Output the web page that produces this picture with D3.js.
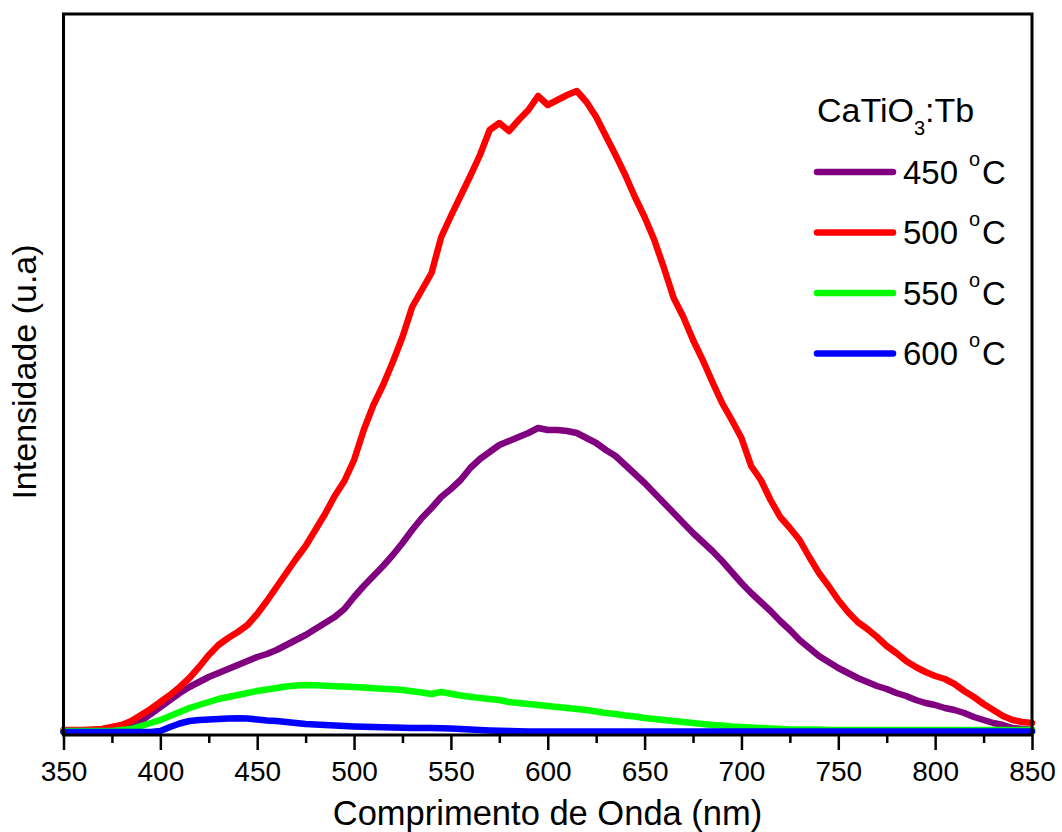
<!DOCTYPE html>
<html>
<head>
<meta charset="UTF-8">
<script src="https://cdn.jsdelivr.net/npm/d3@7/dist/d3.min.js"></script>
<style>
body{
    margin: 0;
    background: #fff;
    font-family: "Liberation Sans", Arial, Helvetica, sans-serif;
}
</style>
</head>
<body>
<script>
// wavelength grid (nm)
var wavelength = [
  350,355,360,365,370,375,380,385,390,395,
  400,405,410,415,420,425,430,435,440,445,
  450,455,460,465,470,475,480,485,490,495,
  500,505,510,515,520,525,530,535,540,545,
  550,555,560,565,570,575,580,585,590,595,
  600,605,610,615,620,625,630,635,640,645,
  650,655,660,665,670,675,680,685,690,695,
  700,705,710,715,720,725,730,735,740,745,
  750,755,760,765,770,775,780,785,790,795,
  800,805,810,815,820,825,830,835,840,845,
  850]

// intensities (arb. units)
var int450 = [
  10,10,10,10,15,20,40,70,110,180,
  250,320,390,450,500,550,590,630,670,710,
  750,780,820,870,920,970,1030,1090,1150,1230,
  1350,1460,1560,1660,1770,1890,2020,2140,2240,2350,
  2430,2520,2640,2730,2800,2870,2910,2950,2990,3040,
  3020,3020,3010,2990,2940,2890,2820,2760,2670,2580,
  2490,2390,2290,2190,2090,1990,1900,1810,1710,1600,
  1490,1390,1300,1210,1110,1020,920,840,760,700,
  640,590,540,500,460,430,390,360,320,290,
  270,240,220,190,150,120,90,70,40,30,
  20]
var int500 = [
  20,20,20,25,30,50,70,110,170,230,
  300,370,450,540,650,770,870,940,1000,1070,
  1180,1310,1450,1590,1730,1860,2020,2180,2360,2510,
  2720,3020,3270,3470,3700,3950,4250,4420,4590,4950,
  5160,5360,5560,5770,6020,6090,6010,6120,6220,6360,
  6270,6320,6370,6410,6300,6150,5960,5770,5570,5350,
  5150,4920,4640,4340,4150,3920,3720,3500,3290,3120,
  2940,2660,2520,2320,2150,2040,1920,1750,1590,1460,
  1320,1200,1100,1030,950,860,790,710,650,600,
  560,530,480,410,350,280,220,160,120,100,
  90]
var int550 = [
  10,10,10,10,10,10,20,30,60,90,
  120,160,200,240,270,300,330,350,370,390,
  410,425,440,455,465,470,468,462,458,455,
  450,445,438,432,428,420,408,395,380,400,
  382,365,352,340,330,320,300,290,280,270,
  260,250,240,230,220,205,190,180,165,155,
  140,130,120,110,100,90,80,70,65,55,
  50,45,40,35,30,25,25,25,25,20,
  20,20,20,20,20,20,20,20,20,20,
  20,20,20,20,20,20,20,20,20,20,
  20]
var int600 = [
  0,0,0,0,0,0,0,0,0,0,
  10,50,85,110,120,125,130,135,137,135,
  125,115,110,100,90,80,75,70,65,60,
  55,52,50,47,45,42,40,40,40,37,
  35,30,25,20,15,12,10,8,6,5,
  5,5,5,5,5,5,5,5,5,5,
  5,5,5,5,5,5,5,5,5,5,
  5,5,5,5,5,5,5,5,5,5,
  5,5,5,5,5,5,5,5,5,5,
  5,5,5,5,5,5,5,5,5,5,
  5]

var seriesNames = ["450", "500", "550", "600"]
var seriesValues = [int450, int500, int550, int600]
var seriesColors = ["#800080", "#ff0000", "#00ff00", "#0000ff"]
var xTicks = [350,400,450,500,550,600,650,700,750,800,850]
var xMinorTicks = [375,425,475,525,575,625,675,725,775,825]

var width = 1062
var height = 832
var plotLeft = 63.5, plotRight = 1032, plotTop = 14, plotBottom = 735

var svg = d3.select('body')
    .append('svg')
    .attr('width', width)
    .attr('height', height)

var x = d3.scaleLinear().domain([350, 850]).range([plotLeft, plotRight])
var y = d3.scaleLinear().domain([-30, 7180]).range([plotBottom, plotTop])

var line = d3.line()
    .x(function(d, i){ return x(wavelength[i]) })
    .y(function(d){ return y(d) })

for (let s = 0; s < seriesValues.length; s++){
    svg.append("path")
        .attr("d", line(seriesValues[s]))
        .attr("fill", "none")
        .attr("stroke", seriesColors[s])
        .attr("stroke-width", 6.5)
        .attr("stroke-linejoin", "round")
        .attr("stroke-linecap", "round")
}

// axes
var xAxis = svg.append("g")
    .attr("transform", "translate(0," + plotBottom + ")")
    .call(d3.axisBottom(x).tickValues(xTicks).tickSize(15).tickSizeOuter(0).tickPadding(11))
xAxis.select(".domain").remove()
xAxis.selectAll("line").attr("stroke", "#000").attr("stroke-width", 2.5)
xAxis.selectAll("text")
    .attr("font-size", 28)
    .attr("font-family", "Liberation Sans, Arial, sans-serif")
    .attr("fill", "#000")

var xMinor = svg.append("g")
    .attr("transform", "translate(0," + plotBottom + ")")
    .call(d3.axisBottom(x).tickValues(xMinorTicks).tickSize(8).tickSizeOuter(0).tickFormat(""))
xMinor.select(".domain").remove()
xMinor.selectAll("line").attr("stroke", "#000").attr("stroke-width", 2.5)

// frame
svg.append("rect")
    .attr("x", plotLeft)
    .attr("y", plotTop)
    .attr("width", plotRight - plotLeft)
    .attr("height", plotBottom - plotTop)
    .attr("fill", "none")
    .attr("stroke", "#000")
    .attr("stroke-width", 3)

// axis titles
svg.append("text")
    .attr("x", 547.5)
    .attr("y", 825)
    .attr("text-anchor", "middle")
    .attr("font-size", 34.5)
    .text("Comprimento de Onda (nm)")

svg.append("text")
    .attr("transform", "translate(36," + 372 + ") rotate(-90)")
    .attr("text-anchor", "middle")
    .attr("font-size", 34)
    .text("Intensidade (u.a)")

// legend
var lt = svg.append("text")
    .attr("x", 817)
    .attr("y", 122)
    .attr("font-size", 34)
lt.append("tspan").text("CaTiO")
lt.append("tspan").attr("font-size", 20).attr("dy", 13).text("3")
lt.append("tspan").attr("dy", -13).text(":Tb")

for (let s = 0; s < seriesNames.length; s++){
    let ly = 172 + s * 60.5
    svg.append("line")
        .attr("x1", 817)
        .attr("x2", 893)
        .attr("y1", ly)
        .attr("y2", ly)
        .attr("stroke", seriesColors[s])
        .attr("stroke-width", 6.5)
        .attr("stroke-linecap", "round")
    let t = svg.append("text")
        .attr("x", 903)
        .attr("y", ly + 11.5)
        .attr("font-size", 33)
    t.append("tspan").text(seriesNames[s])
    t.append("tspan").attr("x", 969).attr("dy", -18).attr("font-size", 20).text("o")
    t.append("tspan").attr("x", 982).attr("dy", 18).text("C")
}
</script>
</body>
</html>
